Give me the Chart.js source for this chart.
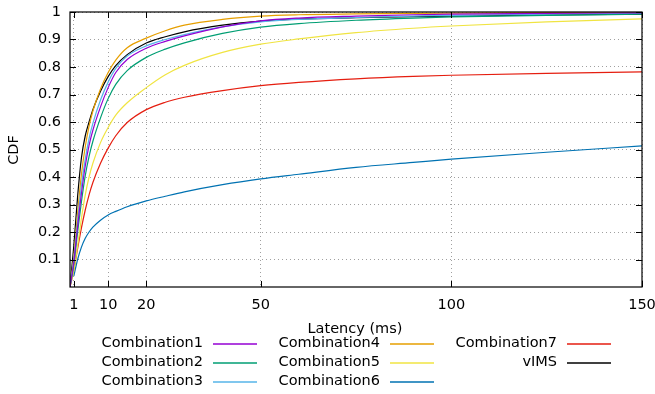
<!DOCTYPE html>
<html>
<head>
<meta charset="utf-8">
<script src="https://cdn.jsdelivr.net/npm/chart.js@4.4.1/dist/chart.umd.min.js"></script>
<style>
  html, body { margin: 0; padding: 0; background: #fff; }
  #wrap { width: 655px; height: 394px; position: relative; }
</style>
</head>
<body>
<div id="wrap"><canvas id="cdfChart"></canvas></div>
<script>
// Latencias muestreadas (ms) y CDF de cada serie
const latency = [0, 1, 2, 3, 4, 5, 6, 8, 10, 12, 15, 20, 25, 30, 40, 50, 60, 75, 90, 100, 125, 150];

const comb1 = [0, 0.09, 0.22, 0.34, 0.44, 0.515, 0.57, 0.655, 0.725, 0.78, 0.827, 0.868, 0.893, 0.913, 0.946, 0.968, 0.978, 0.985, 0.99, 0.992, 0.995, 0.997];
const comb2 = [0, 0.08, 0.2, 0.31, 0.405, 0.475, 0.53, 0.615, 0.685, 0.737, 0.787, 0.835, 0.865, 0.888, 0.922, 0.945, 0.958, 0.97, 0.978, 0.982, 0.988, 0.992];
const comb3 = [0, 0.1, 0.24, 0.37, 0.465, 0.54, 0.595, 0.68, 0.745, 0.795, 0.84, 0.877, 0.9, 0.918, 0.946, 0.964, 0.973, 0.98, 0.985, 0.988, 0.992, 0.995];
const comb4 = [0, 0.11, 0.27, 0.41, 0.51, 0.585, 0.64, 0.72, 0.78, 0.825, 0.87, 0.905, 0.932, 0.952, 0.973, 0.985, 0.99, 0.993, 0.995, 0.996, 0.998, 0.999];
const comb5 = [0, 0.06, 0.15, 0.25, 0.335, 0.4, 0.45, 0.525, 0.58, 0.625, 0.67, 0.725, 0.772, 0.806, 0.853, 0.883, 0.902, 0.925, 0.941, 0.949, 0.964, 0.975];
const comb6 = [null, 0.04, 0.1, 0.145, 0.177, 0.2, 0.218, 0.243, 0.262, 0.275, 0.292, 0.313, 0.33, 0.346, 0.372, 0.393, 0.41, 0.435, 0.453, 0.465, 0.49, 0.513];
const comb7 = [0, 0.06, 0.14, 0.215, 0.28, 0.335, 0.38, 0.45, 0.505, 0.55, 0.598, 0.645, 0.672, 0.69, 0.714, 0.732, 0.744, 0.757, 0.766, 0.77, 0.777, 0.782];
const vims  = [0, 0.15, 0.33, 0.47, 0.55, 0.6, 0.645, 0.712, 0.765, 0.805, 0.845, 0.887, 0.91, 0.928, 0.952, 0.967, 0.974, 0.979, 0.983, 0.985, 0.989, 0.992];

const seriesNames = ['Combination1', 'Combination2', 'Combination3', 'Combination4',
                     'Combination5', 'Combination6', 'Combination7', 'vIMS'];
const seriesData = [comb1, comb2, comb3, comb4, comb5, comb6, comb7, vims];

const xTicks = [1, 10, 20, 50, 100, 150];
const yTicks = [0.1, 0.2, 0.3, 0.4, 0.5, 0.6, 0.7, 0.8, 0.9, 1];

// Colores tipo gnuplot
const colores = ['#9400d3', '#009e73', '#56b4e9', '#e69f00', '#f0e442', '#0072b2', '#e51e10', '#000000'];

const FONT = '"DejaVu Sans", sans-serif';
const FONT_SIZE = 14.5;

const datasets = seriesNames.map((name, i) => ({
    label: name,
    data: latency.map((x, j) => ({ x: x, y: seriesData[i][j] })),
    borderColor: colores[i],
    backgroundColor: colores[i],
    borderWidth: 1.2,
    pointRadius: 0,
    cubicInterpolationMode: 'monotone',
    fill: false
}));

// Marco, marcas hacia dentro, títulos y leyenda al estilo gnuplot
const gnuplotFrame = {
    id: 'gnuplotFrame',
    afterDraw(chart) {
        const ctx = chart.ctx;
        const a = chart.chartArea;
        const xs = chart.scales.x, ys = chart.scales.y;
        ctx.save();
        ctx.strokeStyle = '#000';
        ctx.lineWidth = 1;
        ctx.beginPath();
        xTicks.forEach(v => {
            const px = Math.round(xs.getPixelForValue(v)) + 0.5;
            ctx.moveTo(px, a.bottom); ctx.lineTo(px, a.bottom - 6);
            ctx.moveTo(px, a.top); ctx.lineTo(px, a.top + 6);
        });
        yTicks.forEach(v => {
            const py = Math.round(ys.getPixelForValue(v)) + 0.5;
            ctx.moveTo(a.left, py); ctx.lineTo(a.left + 6, py);
            ctx.moveTo(a.right, py); ctx.lineTo(a.right - 6, py);
        });
        ctx.stroke();
        ctx.lineWidth = 1.2;
        ctx.strokeRect(a.left, a.top, a.right - a.left, a.bottom - a.top);

        ctx.fillStyle = '#000';
        ctx.font = FONT_SIZE + 'px ' + FONT;
        ctx.textAlign = 'center';
        ctx.textBaseline = 'middle';
        ctx.fillText('Latency (ms)', 355, 329);

        ctx.save();
        ctx.translate(14, 150);
        ctx.rotate(-Math.PI / 2);
        ctx.fillText('CDF', 0, 0);
        ctx.restore();

        // leyenda en 3 columnas, orden por columnas
        const colRight = [203, 380, 557];
        const rowY = [343, 362, 381];
        ctx.textAlign = 'right';
        seriesNames.forEach((name, i) => {
            const c = Math.floor(i / 3), r = i % 3;
            const tx = colRight[c], ty = rowY[r];
            ctx.fillStyle = '#000';
            ctx.fillText(name, tx, ty);
            ctx.strokeStyle = colores[i];
            ctx.lineWidth = 1.5;
            ctx.beginPath();
            ctx.moveTo(tx + 10, ty + 1);
            ctx.lineTo(tx + 54, ty + 1);
            ctx.stroke();
        });
        ctx.restore();
    }
};

const ctx = document.getElementById('cdfChart').getContext('2d');
new Chart(ctx, {
    type: 'line',
    data: { datasets: datasets },
    options: {
        responsive: true,
        maintainAspectRatio: false,
        animation: false,
        layout: { padding: 0 },
        plugins: {
            legend: { display: false },
            tooltip: { enabled: false }
        },
        scales: {
            x: {
                type: 'linear',
                min: 0,
                max: 150,
                afterBuildTicks: s => { s.ticks = xTicks.map(v => ({ value: v })); },
                afterFit: s => { s.height = 107; s.paddingLeft = 0; s.paddingRight = 13; },
                grid: { color: '#a0a0a0', lineWidth: 1, drawTicks: false },
                border: { display: false, dash: [1, 3] },
                ticks: {
                    padding: 10,
                    maxRotation: 0,
                    autoSkip: false,
                    color: '#000',
                    font: { family: FONT, size: FONT_SIZE },
                    callback: v => String(v)
                }
            },
            y: {
                type: 'linear',
                min: 0,
                max: 1,
                afterBuildTicks: s => { s.ticks = yTicks.map(v => ({ value: v })); },
                afterFit: s => { s.width = 70; s.paddingTop = 12; s.paddingBottom = 0; },
                grid: { color: '#a0a0a0', lineWidth: 1, drawTicks: false },
                border: { display: false, dash: [1, 3] },
                ticks: {
                    padding: 9,
                    autoSkip: false,
                    color: '#000',
                    font: { family: FONT, size: FONT_SIZE },
                    callback: v => String(v)
                }
            }
        }
    },
    plugins: [gnuplotFrame]
});
</script>
</body>
</html>
